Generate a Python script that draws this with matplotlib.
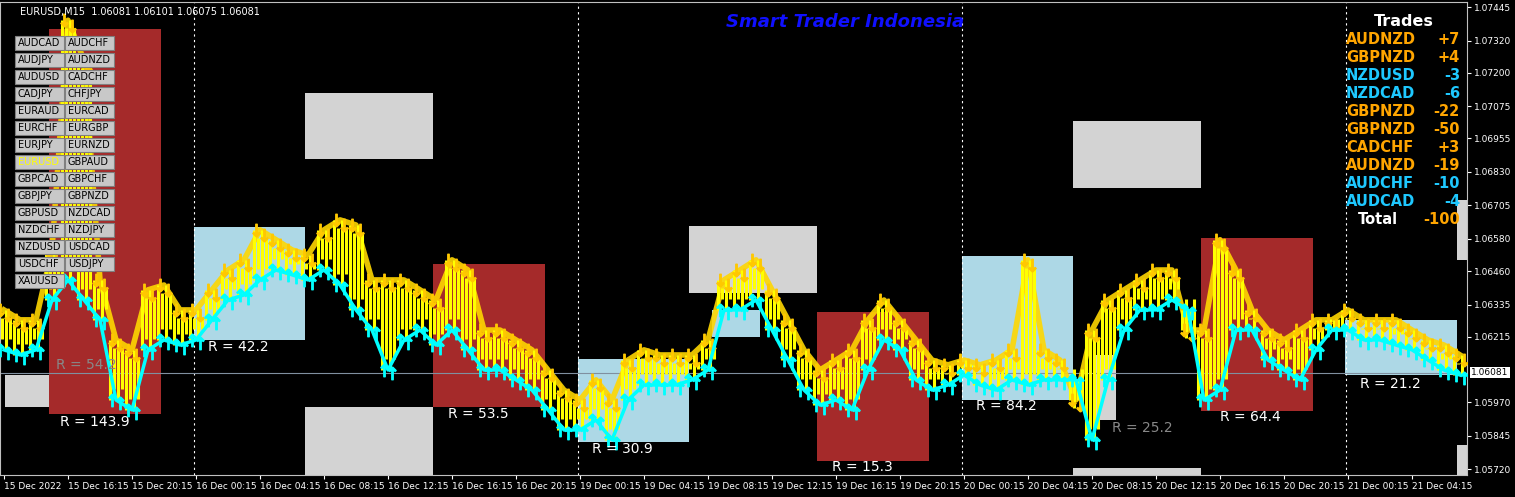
import matplotlib
matplotlib.use("Agg")
import matplotlib.pyplot as plt
from matplotlib.patches import Rectangle

# ---------------- data ----------------
bar_step = 4  # one sample every 4 M15 bars
lows = [1.06166,1.06147,1.06166,1.06352,1.06427,1.06352,1.06278,1.05979,1.05942,1.06166,
        1.06203,1.06184,1.06203,1.06278,1.06352,1.06371,1.06427,1.06464,1.06446,1.06427,
        1.06464,1.06408,1.06315,1.06240,1.06091,1.06203,1.06240,1.06184,1.06240,1.06166,
        1.06091,1.06091,1.06054,1.06016,1.05942,1.05867,1.05867,1.05904,1.05830,1.05979,
        1.06035,1.06035,1.06035,1.06054,1.06091,1.06315,1.06315,1.06352,1.06240,1.06128,
        1.06016,1.05960,1.05979,1.05942,1.06091,1.06203,1.06166,1.06054,1.06016,1.06035,
        1.06072,1.06035,1.06016,1.06054,1.06035,1.06054,1.06054,1.06054,1.05830,1.06054,
        1.06240,1.06315,1.06315,1.06352,1.06315,1.05979,1.06016,1.06240,1.06240,1.06128,
        1.06091,1.06054,1.06166,1.06240,1.06240,1.06203,1.06203,1.06184,1.06166,1.06128,
        1.06091,1.06072]
highs = [1.06315,1.06278,1.06278,1.06539,1.07396,1.07247,1.06427,1.06203,1.06166,1.06390,
         1.06408,1.06315,1.06315,1.06390,1.06464,1.06502,1.06614,1.06577,1.06539,1.06520,
         1.06614,1.06651,1.06632,1.06427,1.06427,1.06427,1.06390,1.06352,1.06502,1.06464,
         1.06240,1.06240,1.06203,1.06166,1.06091,1.06016,1.05979,1.06054,1.05979,1.06128,
         1.06166,1.06147,1.06147,1.06147,1.06203,1.06427,1.06464,1.06502,1.06390,1.06278,
         1.06166,1.06091,1.06128,1.06166,1.06278,1.06352,1.06278,1.06203,1.06128,1.06110,
         1.06128,1.06110,1.06128,1.06166,1.06502,1.06166,1.06128,1.05979,1.06240,1.06352,
         1.06390,1.06427,1.06464,1.06464,1.06240,1.06240,1.06577,1.06464,1.06315,1.06240,
         1.06203,1.06240,1.06278,1.06278,1.06315,1.06278,1.06278,1.06278,1.06240,1.06203,
         1.06184,1.06147]

zones = [  # (x0 bar, x1 bar, y0, y1, color)
    (12.25, 40.25, 1.05926, 1.07363, "#a52a2a"),
    (1.25, 12.25, 1.05954, 1.06072, "#d3d3d3"),
    (48.5, 76.25, 1.06203, 1.06625, "#add8e6"),
    (76.25, 108.25, 1.06878, 1.07124, "#d3d3d3"),
    (76.25, 108.25, 1.05699, 1.05954, "#d3d3d3"),
    (108.25, 136.25, 1.05951, 1.06487, "#a52a2a"),
    (144.5, 172.25, 1.05824, 1.06130, "#add8e6"),
    (172.25, 204.25, 1.06379, 1.06629, "#d3d3d3"),
    (178, 190, 1.06215, 1.06315, "#add8e6"),
    (204.25, 232.25, 1.05751, 1.06308, "#a52a2a"),
    (240.5, 268.25, 1.05979, 1.06517, "#add8e6"),
    (268.25, 300.25, 1.06771, 1.07020, "#d3d3d3"),
    (268.25, 300.25, 1.05699, 1.05725, "#d3d3d3"),
    (274, 279, 1.05905, 1.06147, "#d3d3d3"),
    (300.25, 328.25, 1.05938, 1.06584, "#a52a2a"),
    (336.25, 364.25, 1.06072, 1.06278, "#add8e6"),
    (364.25, 366.75, 1.06502, 1.06725, "#d3d3d3"),
    (364.25, 366.75, 1.05699, 1.05811, "#d3d3d3"),
]
r_labels = [("R = 143.9", 15, 1.05880, "white"), ("R = 54.2", 14, 1.06096, "#888888"),
            ("R = 42.2", 52, 1.06162, "white"), ("R = 53.5", 112, 1.05910, "white"),
            ("R = 30.9", 148, 1.05780, "white"), ("R = 15.3", 208, 1.05715, "white"),
            ("R = 84.2", 244, 1.05940, "white"), ("R = 25.2", 278, 1.05860, "#888888"),
            ("R = 64.4", 305, 1.05900, "white"), ("R = 21.2", 340, 1.06025, "white")]

time_labels = ["15 Dec 2022","15 Dec 16:15","15 Dec 20:15","16 Dec 00:15","16 Dec 04:15",
               "16 Dec 08:15","16 Dec 12:15","16 Dec 16:15","16 Dec 20:15","19 Dec 00:15",
               "19 Dec 04:15","19 Dec 08:15","19 Dec 12:15","19 Dec 16:15","19 Dec 20:15",
               "20 Dec 00:15","20 Dec 04:15","20 Dec 08:15","20 Dec 12:15","20 Dec 16:15",
               "20 Dec 20:15","21 Dec 00:15","21 Dec 04:15"]
day_breaks = [48.5, 144.5, 240.5, 336.5]
price_ticks = [1.07445,1.07320,1.07200,1.07075,1.06955,1.06830,1.06705,1.06580,1.06460,
               1.06335,1.06215,1.05970,1.05845,1.05720]
last_price = 1.06081

left_buttons = ["AUDCAD","AUDJPY","AUDUSD","CADJPY","EURAUD","EURCHF","EURJPY","EURUSD",
                "GBPCAD","GBPJPY","GBPUSD","NZDCHF","NZDUSD","USDCHF","XAUUSD"]
right_buttons = ["AUDCHF","AUDNZD","CADCHF","CHFJPY","EURCAD","EURGBP","EURNZD","GBPAUD",
                 "GBPCHF","GBPNZD","NZDCAD","NZDJPY","USDCAD","USDJPY"]
trade_pairs = ["AUDNZD","GBPNZD","NZDUSD","NZDCAD","GBPNZD","GBPNZD","CADCHF","AUDNZD","AUDCHF","AUDCAD"]
trade_vals = ["+7","+4","-3","-6","-22","-50","+3","-19","-10","-4"]
trade_cols = ["#ffa500","#ffa500","#1ec8ff","#1ec8ff","#ffa500","#ffa500","#ffa500","#ffa500","#1ec8ff","#1ec8ff"]

# ---------------- figure ----------------
W, H = 1515, 497
fig = plt.figure(figsize=(W/100, H/100), dpi=100, facecolor="black")
ax = fig.add_axes([0, 22/H, 1467/W, 473/H], facecolor="black")
ax.set_xlim(0, 366.75)
ax.set_ylim(1.05699, 1.07464)
for s in ax.spines.values():
    s.set_color("#c0c0c0")

for x0, x1, y0, y1, c in zones:
    ax.add_patch(Rectangle((x0, y0), x1-x0, y1-y0, color=c, zorder=1, lw=0))

for x in day_breaks:
    ax.axvline(x, color="white", ls=(0, (2, 3)), lw=0.8, zorder=2)
ax.axhline(last_price, color="#8090a0", lw=0.8, zorder=2)

xs = [1 + i*bar_step for i in range(len(lows))]
ax.plot(xs, highs, color="#ffd700", lw=4, alpha=0.9, zorder=3)
for i, x in enumerate(xs):
    lo, hi = lows[i], highs[i]
    for k in range(4):
        xx = x + k - 1.5
        ax.vlines(xx, lo + 0.0004*(k % 2), hi - 0.0003*(k % 2), color="yellow", lw=2.2, zorder=3)
    ax.plot([x - 1, x + 1], [hi, hi - 0.0002], ls="none", marker=r"$\downarrow$", color="#ffc800", ms=9, zorder=4)
    ax.plot([x - 1, x + 1], [lo, lo - 0.0001], ls="none", marker=r"$\uparrow$", color="cyan", ms=9, zorder=4)
ax.plot(xs, lows, color="cyan", lw=2.5, zorder=4)

for t, x, y, c in r_labels:
    ax.text(x, y, t, color=c, fontsize=10, zorder=5)

# axes ticks
ax.yaxis.tick_right()
ax.set_yticks(price_ticks)
ax.set_yticklabels([f"{p:.5f}" for p in price_ticks], fontsize=6.5, color="white")
ax.tick_params(axis="y", colors="white", length=3, pad=2)
ax.set_xticks([1] + [17 + 16*k for k in range(len(time_labels)-1)])
ax.set_xticklabels(time_labels, fontsize=6.5, color="white", ha="left")
ax.tick_params(axis="x", colors="white", length=3, pad=2)
ax.text(1.003, last_price, f"{last_price:.5f}", transform=ax.get_yaxis_transform(),
        fontsize=6.5, color="black", va="center", bbox=dict(fc="white", ec="none", pad=1), zorder=6)

# header texts
fig.text(20/W, 1-12/H, "EURUSD,M15  1.06081 1.06101 1.06075 1.06081", color="white", fontsize=7, va="center")
fig.text(845/W, 1-22/H, "Smart Trader Indonesia", color="#1010ff", fontsize=13,
         fontweight="bold", style="italic", ha="center", va="center")

# buttons
for col, names in enumerate([left_buttons, right_buttons]):
    for r, n in enumerate(names):
        x0 = 15 + col*50
        y0 = 36 + r*17
        fig.patches.append(Rectangle((x0/W, 1-(y0+14)/H), 49/W, 14/H, transform=fig.transFigure,
                                     fc="#c8c8c8", ec="#808080", lw=0.8, zorder=7))
        fig.text((x0+3)/W, 1-(y0+7)/H, n, fontsize=7, va="center", zorder=8,
                 color="yellow" if n == "EURUSD" else "black")

# trades panel
fig.text(1404/W, 1-22/H, "Trades", color="white", fontsize=11.5, fontweight="bold", ha="center", va="center")
for i, (p, v, c) in enumerate(zip(trade_pairs, trade_vals, trade_cols)):
    y = 1-(40+18*i)/H
    fig.text(1346/W, y, p, color=c, fontsize=10.5, fontweight="bold", va="center")
    fig.text(1460/W, y, v, color=c, fontsize=10.5, fontweight="bold", va="center", ha="right")
fig.text(1358/W, 1-220/H, "Total", color="white", fontsize=10.5, fontweight="bold", va="center")
fig.text(1460/W, 1-220/H, "-100", color="#ffa500", fontsize=10.5, fontweight="bold", va="center", ha="right")

fig.savefig("out.png", dpi=100, facecolor="black")
